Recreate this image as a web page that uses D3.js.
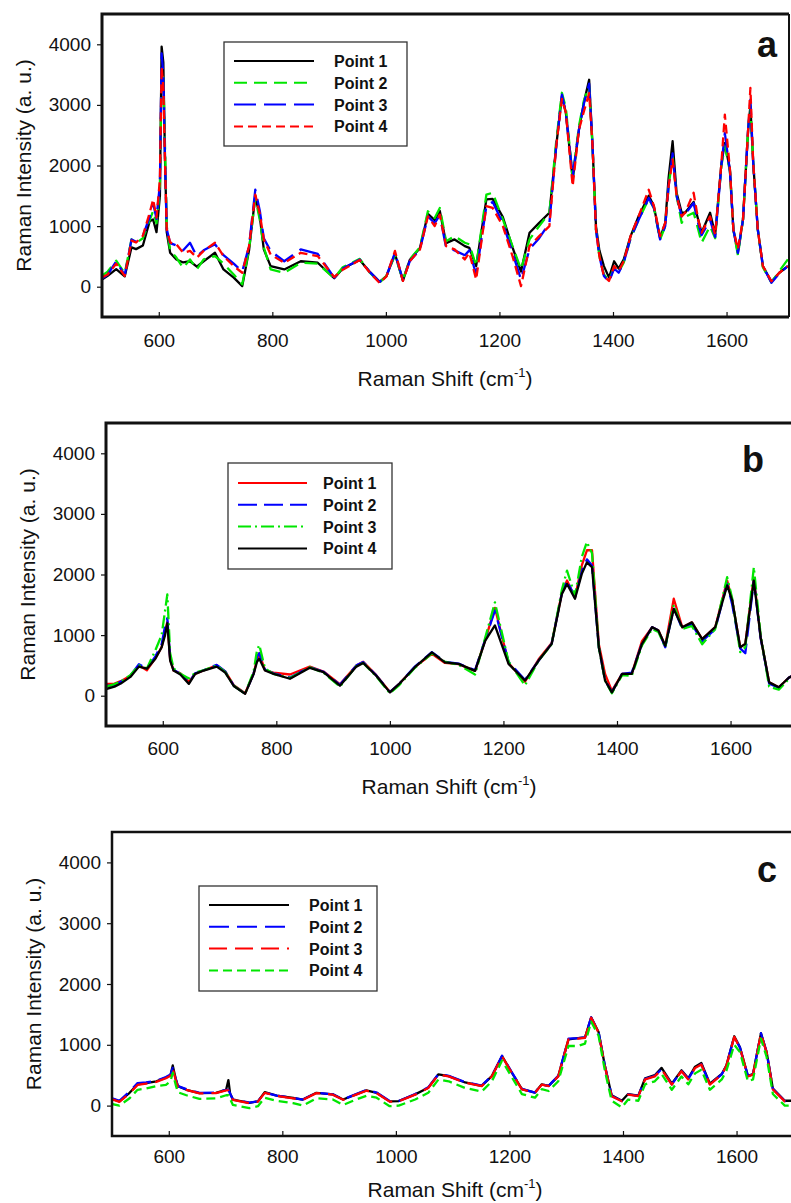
<!DOCTYPE html>
<html>
<head>
<meta charset="utf-8">
<script src="https://cdnjs.cloudflare.com/ajax/libs/d3/7.8.5/d3.min.js"></script>
<style>
body{margin:0;background:#fff;}
text{font-family:Arial,"Liberation Sans",sans-serif;fill:#111;}
</style>
</head>
<body>
<svg id="chart" width="791" height="1203"></svg>
<script>
// tick values and legend names
var xTicks = [600, 800, 1000, 1200, 1400, 1600];
var yTicks = [0, 1000, 2000, 3000, 4000];
var pointNames = ["Point 1", "Point 2", "Point 3", "Point 4"];

// ---- panel a : black, green, blue, red
var xsA = [500,510,525,540,552,560,572,584,590,596,602,605,608,611,614,620,631,643,655,667,679,699,714,732,747,759,770,778,785,797,821,850,880,909,924,954,972,989,1001,1016,1030,1042,1060,1074,1086,1095,1106,1121,1139,1147,1159,1177,1188,1206,1223,1238,1253,1270,1288,1300,1310,1317,1329,1340,1349,1358,1364,1370,1376,1384,1393,1402,1410,1419,1431,1445,1463,1472,1483,1492,1498,1505,1512,1521,1527,1542,1550,1556,1571,1580,1591,1597,1606,1612,1620,1629,1638,1642,1647,1655,1664,1679,1693,1708];
var a1 = [120,180,290,170,650,620,680,1080,1110,900,1500,3960,3700,2100,900,560,450,400,420,330,420,560,285,150,10,600,1500,1150,615,340,285,420,395,140,300,440,240,80,175,540,100,440,640,1200,1100,1250,720,780,670,640,340,1440,1450,1150,650,250,890,1054,1220,2320,3150,2870,1770,2590,3050,3415,2320,1000,600,340,150,420,300,450,835,1160,1500,1330,800,1054,1800,2400,1550,1220,1220,1400,1110,890,1220,860,2040,2370,1930,945,560,1110,2590,2975,2040,945,340,80,230,340];
var a2 = [180,250,430,220,780,720,800,1100,1250,1050,1600,3520,3450,2300,1000,600,480,310,450,285,450,505,380,200,40,620,1465,1100,650,285,230,395,380,140,320,460,230,70,180,520,110,450,650,1245,1135,1300,750,835,725,700,340,1520,1550,1110,670,285,780,1000,1220,2400,3200,2950,1800,2650,3080,3300,2320,945,505,200,100,320,240,400,800,1100,1450,1300,780,1000,1660,2150,1500,1054,1150,1220,950,725,1000,800,2000,2320,1900,945,520,1110,2590,3000,2040,945,320,70,260,450];
var a3 = [130,200,420,190,780,740,840,1150,1380,1120,1700,3850,3500,2100,950,720,680,600,725,500,600,700,520,380,250,670,1600,1250,800,590,420,615,540,150,300,450,240,80,175,560,110,420,615,1160,1050,1180,650,600,520,600,200,1330,1400,1050,560,120,620,800,1050,2320,3170,2870,1820,2590,3030,3350,2320,945,505,175,80,300,230,400,800,1100,1465,1300,780,1000,1660,2200,1500,1160,1200,1380,1050,850,1100,820,2000,2535,1900,945,560,1110,2590,3085,2040,945,340,65,220,340];
var a4 = [150,200,380,180,760,730,840,1220,1440,1140,1770,3630,3300,2040,950,730,700,560,590,480,590,725,505,340,230,670,1520,1200,780,530,395,560,505,160,280,440,230,60,170,590,95,420,615,1160,1000,1190,670,615,450,560,120,1330,1300,1000,505,10,670,835,1000,2320,3100,2870,1660,2590,2900,3195,2320,945,505,175,95,340,260,420,835,1160,1600,1330,835,1054,1660,2100,1500,1160,1220,1550,1110,890,1160,860,2040,2840,1930,945,620,1110,2590,3280,2040,945,340,90,230,340];

// ---- panel b : red, blue, green, black
var xsB = [500,515,526,543,558,572,587,598,604,608,613,619,631,646,657,672,695,710,725,745,760,766,770,780,795,824,859,883,912,941,953,976,1000,1017,1044,1074,1097,1121,1150,1168,1185,1209,1238,1262,1285,1303,1312,1326,1338,1347,1356,1368,1379,1391,1409,1426,1444,1462,1473,1485,1500,1515,1532,1550,1573,1594,1603,1617,1626,1641,1653,1668,1685,1703,1710];
var b1 = [195,200,240,330,500,420,620,800,1050,1220,600,415,370,230,360,415,500,400,175,40,360,600,700,420,380,350,480,400,190,500,560,340,60,200,470,690,540,520,410,920,1450,540,230,600,870,1700,1900,1620,2150,2400,2400,850,360,80,360,360,900,1130,1075,825,1600,1130,1210,935,1130,1900,1570,800,855,1950,965,220,140,300,330];
var b2 = [160,180,230,330,520,445,650,850,1150,1280,620,430,360,220,370,420,510,400,165,35,360,650,700,430,370,300,470,395,180,500,555,335,60,200,480,720,560,530,420,930,1405,560,260,580,860,1700,1900,1620,2050,2250,2150,800,250,60,360,380,855,1130,1075,800,1450,1100,1180,900,1100,1850,1500,780,700,1900,950,200,130,300,330];
var b3 = [150,190,230,340,500,450,750,1000,1400,1670,700,450,360,285,380,420,500,390,165,30,400,750,835,450,360,290,470,380,150,490,540,320,40,180,460,700,560,510,350,960,1540,560,170,580,850,1750,2065,1650,2290,2535,2350,800,250,40,340,330,830,1100,1050,800,1500,1100,1150,850,1100,1955,1600,720,800,2120,1000,150,100,280,300];
var b4 = [110,150,200,310,480,445,610,800,1000,1195,580,415,350,195,360,415,480,380,160,30,360,560,610,415,360,280,460,390,165,480,540,330,55,200,470,715,550,525,410,910,1160,525,250,580,855,1680,1845,1600,2010,2200,2120,800,250,55,360,360,855,1130,1075,825,1430,1130,1210,935,1130,1820,1570,800,855,1900,965,220,140,300,330];

// ---- panel c : black, blue, red, green
var xsC = [498,513,531,545,560,578,595,603,607,612,616,631,654,683,701,705,708,713,742,757,769,790,819,836,860,889,907,930,948,966,989,1005,1034,1057,1075,1093,1122,1151,1169,1187,1204,1222,1245,1257,1269,1286,1304,1321,1333,1344,1357,1368,1380,1398,1409,1427,1439,1456,1468,1486,1503,1515,1527,1538,1553,1574,1582,1596,1606,1620,1629,1643,1653,1664,1685,1700];
var c1 = [120,70,210,350,370,400,460,500,660,450,320,260,205,210,260,420,200,100,45,70,220,165,125,100,210,185,100,185,250,210,70,75,185,295,515,485,380,325,485,815,545,270,215,350,325,485,1090,1110,1120,1450,1210,660,170,80,190,165,450,500,620,360,580,450,640,700,360,520,660,1140,960,490,520,1190,880,280,80,80];
var c2 = [130,80,230,370,380,410,470,510,620,450,320,270,210,215,260,260,200,100,50,70,215,165,125,100,210,185,100,190,255,215,75,75,190,300,520,490,385,330,490,820,550,275,215,350,325,490,1100,1110,1120,1450,1210,660,160,75,185,160,440,490,600,350,570,440,620,680,350,515,655,1135,955,485,515,1190,875,275,75,75];
var c3 = [110,60,200,340,360,390,450,490,610,430,300,260,200,205,250,250,190,95,40,65,210,160,120,95,205,180,95,180,245,205,65,70,180,290,510,480,375,320,480,810,540,265,210,345,320,480,1090,1100,1115,1445,1200,650,155,70,180,155,430,480,595,345,565,430,620,675,345,510,650,1130,950,480,510,1185,870,265,70,70];
var c4 = [30,0,120,260,280,320,340,400,540,350,220,170,110,120,170,170,110,10,-40,-10,130,80,40,0,120,100,10,100,160,130,-10,0,100,210,430,400,290,230,400,740,470,190,130,270,240,400,980,980,1020,1380,1150,580,80,-30,100,80,350,400,520,260,480,350,530,590,260,430,570,1000,880,400,430,1100,800,190,0,0];

// layout of the three panels (pixels)
var panels = [
  {xs: xsA, ys: [a1, a2, a3, a4], left: 102, top: 14, bottom: 317, letter: "a", letterX: 757, letterY: 57,
   colors: ["#000", "#00e600", "#0000ff", "#ff0000"], dashes: [null, "13,7", "22,8", "9,5"],
   tickGap: 30, titleGap: 69, frame: 3,
   legend: {x: 224, y: 42, w: 183, h: 104, lx1: 234, lx2: 314, tx: 334, ly: 61}},
  {xs: xsB, ys: [b1, b2, b3, b4], left: 106, top: 423, bottom: 726, letter: "b", letterX: 742, letterY: 472,
   colors: ["#ff0000", "#0000ff", "#00e600", "#000"], dashes: [null, "19,7", "13,4,2,4", null],
   tickGap: 29, titleGap: 68, frame: 3,
   legend: {x: 228, y: 463, w: 164, h: 106, lx1: 238, lx2: 307, tx: 323, ly: 483}},
  {xs: xsC, ys: [c1, c2, c3, c4], left: 112, top: 832, bottom: 1136, letter: "c", letterX: 757, letterY: 882,
   colors: ["#000", "#0000ff", "#ff0000", "#00e600"], dashes: [null, "20,8", "18,8", "9,5"],
   tickGap: 27, titleGap: 61, frame: 2.5,
   legend: {x: 199, y: 886, w: 178, h: 105, lx1: 209, lx2: 289, tx: 309, ly: 905}}
];

var svg = d3.select("#chart");

panels.forEach(function(p, k) {
  var right = p.left + 687;
  var x = d3.scaleLinear().domain([500, 1710]).range([p.left, right]);
  var y = d3.scaleLinear().domain([-500, 4500]).range([p.bottom, p.top]);
  var g = svg.append("g");

  g.append("clipPath").attr("id", "clip" + k)
    .append("rect").attr("x", p.left).attr("y", p.top)
    .attr("width", right - p.left).attr("height", p.bottom - p.top);

  // spectra
  var line = d3.line().x(function(d, i) { return x(p.xs[i]); }).y(function(d) { return y(d); });
  p.ys.forEach(function(ser, s) {
    g.append("path").datum(ser)
      .attr("clip-path", "url(#clip" + k + ")")
      .attr("d", line)
      .attr("fill", "none")
      .attr("stroke", p.colors[s])
      .attr("stroke-width", 2.3)
      .attr("stroke-linejoin", "round")
      .attr("stroke-dasharray", p.dashes[s]);
  });

  // axes: y ticks go outward, x ticks go inward
  var yAxis = d3.axisLeft(y).tickValues(yTicks).tickSize(5).tickPadding(6).tickFormat(d3.format("d"));
  var ya = g.append("g").attr("transform", "translate(" + p.left + ",0)").call(yAxis);
  ya.select(".domain").remove();
  ya.selectAll("line").attr("stroke", "#111").attr("stroke-width", 1.2);
  ya.selectAll("text").attr("font-size", 19).attr("font-family", "Arial, 'Liberation Sans', sans-serif").attr("fill", "#111");

  var xAxis = d3.axisBottom(x).tickValues(xTicks).tickSize(-5).tickPadding(0).tickFormat(d3.format("d"));
  var xa = g.append("g").attr("transform", "translate(0," + p.bottom + ")").call(xAxis);
  xa.select(".domain").remove();
  xa.selectAll("line").attr("stroke", "#111").attr("stroke-width", 1.2);
  xa.selectAll("text").attr("font-size", 19).attr("font-family", "Arial, 'Liberation Sans', sans-serif")
    .attr("fill", "#111").attr("dy", null).attr("y", p.tickGap);

  // frame
  g.append("path")
    .attr("d", "M" + right + "," + p.top + "H" + p.left + "V" + p.bottom + "H" + right)
    .attr("fill", "none").attr("stroke", "#111").attr("stroke-width", p.frame);
  g.append("line").attr("x1", right).attr("x2", right).attr("y1", p.top).attr("y2", p.bottom)
    .attr("stroke", "#111").attr("stroke-width", 2);

  // titles
  g.append("text")
    .attr("transform", "translate(" + (p.left - 71) + "," + ((p.top + p.bottom) / 2) + ") rotate(-90)")
    .attr("text-anchor", "middle").attr("font-size", 21)
    .text("Raman Intensity (a. u.)");

  var xt = g.append("text")
    .attr("x", p.left + 343).attr("y", p.bottom + p.titleGap)
    .attr("text-anchor", "middle").attr("font-size", 21);
  xt.append("tspan").text("Raman Shift (cm");
  xt.append("tspan").attr("font-size", 13).attr("dy", -9).text("-1");
  xt.append("tspan").attr("dy", 9).text(")");

  g.append("text").attr("x", p.letterX).attr("y", p.letterY)
    .attr("font-size", 36).attr("font-weight", "bold").attr("fill", "#3a3a3a")
    .text(p.letter);

  // legend
  var L = p.legend;
  g.append("rect").attr("x", L.x).attr("y", L.y).attr("width", L.w).attr("height", L.h)
    .attr("fill", "#fff").attr("stroke", "#333").attr("stroke-width", 1.3);
  pointNames.forEach(function(name, s) {
    var ly = L.ly + s * 21.8;
    g.append("line").attr("x1", L.lx1).attr("x2", L.lx2).attr("y1", ly).attr("y2", ly)
      .attr("stroke", p.colors[s]).attr("stroke-width", 2).attr("stroke-dasharray", p.dashes[s]);
    g.append("text").attr("x", L.tx).attr("y", ly + 6)
      .attr("font-size", 16).attr("font-weight", "bold").text(name);
  });
});
</script>
</body>
</html>
